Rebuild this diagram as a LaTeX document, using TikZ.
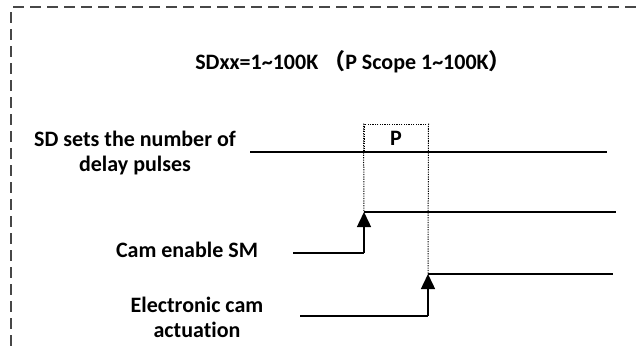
\documentclass[tikz,border=0pt]{standalone}
\usepackage{fontspec}
\setmainfont{Carlito}[Ligatures=NoCommon]
\newfontfamily\cjk{Noto Sans CJK SC}
\usetikzlibrary{arrows.meta}
\begin{document}
\begin{tikzpicture}[x=1pt,y=1pt,
  lbl/.style={font=\bfseries\fontsize{22}{25}\selectfont, align=center, inner sep=0pt},
  sig/.style={line width=1.5pt, black},
  dotln/.style={line width=1pt, black, dash pattern=on 1.2pt off 1.2pt},
  frame/.style={line width=1.2pt, black!72, dash pattern=on 11pt off 6pt},
  uparrow/.style={sig, -{Triangle[length=15pt,width=14pt]}}]
\useasboundingbox (0,0) rectangle (642,-349);
% frame
\coordinate (ftl) at (13,-7);
\coordinate (ftr) at (642,-7);
\coordinate (flt) at (11,-12);
\coordinate (flb) at (11,-349);
\draw[frame] (ftl) -- (ftr);
\draw[frame] (flt) -- (flb);
% title
\node[lbl, anchor=base] (title) at (353,-69) {SDxx=1\textasciitilde100K {\cjk\bfseries （}P Scope 1\textasciitilde100K{\cjk\bfseries ）}};
% labels
\node[lbl] (lsd) at (135,-153.5) {SD sets the number of\\delay pulses};
\node[lbl, anchor=base] (lcam) at (187,-257) {Cam enable SM};
\node[lbl] (lel) at (197,-317.5) {Electronic cam\\actuation};
% P box
\node[lbl, draw, dotln, minimum width=64pt, minimum height=28pt] (P) at (396,-138) {P};
% signal 1
\coordinate (s1a) at (250,-152);
\coordinate (s1b) at (607,-152);
\draw[sig] (s1a) -- (s1b);
% signal 2
\coordinate (s2a) at (293,-253);
\coordinate (s2b) at (364,-253);
\coordinate (s2c) at (364,-212);
\coordinate (s2d) at (616,-212);
\draw[dotln] (P.north west) -- (s2c);
\draw[sig] (s2a) -- (s2b);
\draw[uparrow] (s2b) -- (s2c);
\draw[sig] (s2c) -- (s2d);
% signal 3
\coordinate (s3a) at (300,-316);
\coordinate (s3b) at (428,-316);
\coordinate (s3c) at (428,-274);
\coordinate (s3d) at (613,-274);
\draw[dotln] (P.north east) -- (s3c);
\draw[sig] (s3a) -- (s3b);
\draw[uparrow] (s3b) -- (s3c);
\draw[sig] (s3c) -- (s3d);
\end{tikzpicture}
\end{document}
